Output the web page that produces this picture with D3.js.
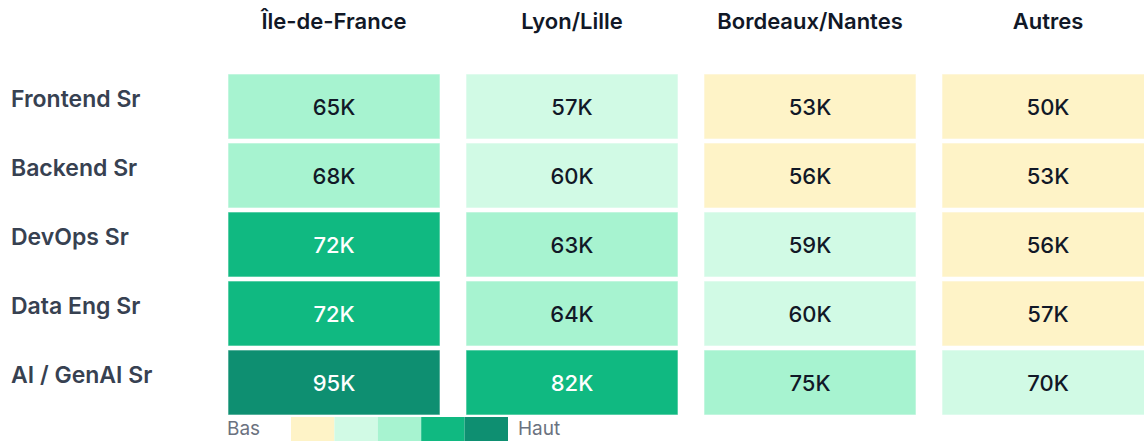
<!DOCTYPE html>
<html>
<head>
<meta charset="utf-8">
<script src="https://cdn.jsdelivr.net/npm/d3@7"></script>
<style>
  body { margin: 0; background: #fff; overflow: hidden; }
  svg { display: block; font-family: Inter, "Noto Sans", sans-serif; }
</style>
</head>
<body>
<svg id="chart" width="1144" height="441"></svg>
<script>
const regions = ["Île-de-France", "Lyon/Lille", "Bordeaux/Nantes", "Autres"];
const roles = ["Frontend Sr", "Backend Sr", "DevOps Sr", "Data Eng Sr", "AI / GenAI Sr"];

// salaries in K€, one list per role, in region order
const salaries = [
    [65, 57, 53, 50],
    [68, 60, 56, 53],
    [72, 63, 59, 56],
    [72, 64, 60, 57],
    [95, 82, 75, 70]
];

// colour band of each cell, 0 = bas ... 4 = haut
const levels = [
    [2, 1, 0, 0],
    [2, 1, 0, 0],
    [3, 2, 1, 0],
    [3, 2, 1, 0],
    [4, 3, 2, 1]
];

const legendLabels = ["Bas", "Haut"];
const palette = ["#fef3c7", "#d1fae5", "#a7f3d0", "#10b981", "#0e8f71"];

const svg = d3.select("#chart");

const x = d3.scaleBand()
    .domain(regions)
    .range([228, 1154])
    .paddingInner(26 / 238);

const y = d3.scaleBand()
    .domain(roles)
    .range([74, 415])
    .paddingInner(4 / 69);

const color = d3.scaleOrdinal()
    .domain(d3.range(palette.length))
    .range(palette);

const cells = [];
roles.forEach((role, i) => {
    regions.forEach((region, j) => {
        cells.push({ role, region, value: salaries[i][j], level: levels[i][j] });
    });
});

// column headers
svg.append("g")
    .selectAll("text")
    .data(regions)
    .join("text")
    .attr("x", d => x(d) + x.bandwidth() / 2)
    .attr("y", 29)
    .attr("text-anchor", "middle")
    .attr("font-size", 22)
    .attr("font-weight", 600)
    .attr("fill", "#111827")
    .text(d => d);

// row labels
svg.append("g")
    .selectAll("text")
    .data(roles)
    .join("text")
    .attr("x", 11)
    .attr("y", d => y(d) + y.bandwidth() / 2 - 8)
    .attr("dy", "0.35em")
    .attr("font-size", 23)
    .attr("font-weight", 600)
    .attr("fill", "#374151")
    .text(d => d);

// cells
const cell = svg.append("g")
    .selectAll("g")
    .data(cells)
    .join("g");

cell.append("rect")
    .attr("x", d => x(d.region))
    .attr("y", d => y(d.role))
    .attr("width", x.bandwidth())
    .attr("height", y.bandwidth())
    .attr("fill", d => color(d.level))
    .attr("stroke", "#ffffff")
    .attr("stroke-opacity", 0.6)
    .attr("stroke-width", 1);

cell.append("text")
    .attr("x", d => x(d.region) + x.bandwidth() / 2)
    .attr("y", d => y(d.role) + y.bandwidth() / 2)
    .attr("dy", "0.37em")
    .attr("text-anchor", "middle")
    .attr("font-size", 22)
    .attr("font-weight", 500)
    .attr("fill", d => d.level >= 3 ? "#ffffff" : "#111827")
    .text(d => d.value + "K");

// legend
const lx = d3.scaleBand()
    .domain(d3.range(palette.length))
    .range([291, 508]);

const legend = svg.append("g");

legend.selectAll("rect")
    .data(d3.range(palette.length))
    .join("rect")
    .attr("x", d => lx(d))
    .attr("y", 417)
    .attr("width", lx.bandwidth())
    .attr("height", 24)
    .attr("fill", d => color(d));

legend.append("text")
    .attr("x", 227)
    .attr("y", 435)
    .attr("font-size", 19)
    .attr("fill", "#6b7280")
    .text(legendLabels[0]);

legend.append("text")
    .attr("x", 518)
    .attr("y", 435)
    .attr("font-size", 19)
    .attr("fill", "#6b7280")
    .text(legendLabels[1]);
</script>
</body>
</html>
